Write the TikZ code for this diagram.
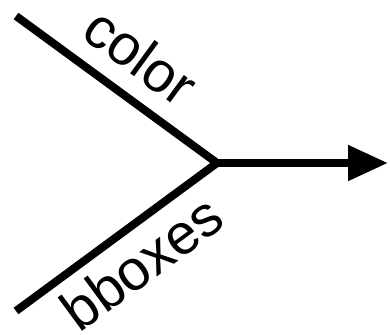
\documentclass[tikz,border=0pt]{standalone}
\usepackage{fontspec}
\setmainfont{Liberation Sans}
\usetikzlibrary{arrows.meta}

\tikzset{
    wire/.style={line width=8pt},
    tag/.style={font=\fontsize{57}{60}\selectfont, sloped, anchor=base}
}

\begin{document}
\begin{tikzpicture}[x=1pt, y=-1pt]
    \useasboundingbox (0,0) rectangle (390,334);

    % Inputs and merge point.
    \coordinate (colorin) at (16,16);
    \coordinate (bboxin)  at (16,311);
    \coordinate (merge)   at (217,163);
    \coordinate (out)     at (388,163);

    % The two inputs meet.
    \draw [wire] (colorin) -- (merge) -- (bboxin);
    \path (colorin) -- (merge) node[tag, pos=0.5, yshift=21pt] {color};
    \path (bboxin) -- (merge) node[tag, pos=0.52, yshift=-56pt] {bboxes};

    % Output.
    \draw [wire, -{Triangle[length=40pt, width=34pt]}] (merge) -- (out);
\end{tikzpicture}
\end{document}
